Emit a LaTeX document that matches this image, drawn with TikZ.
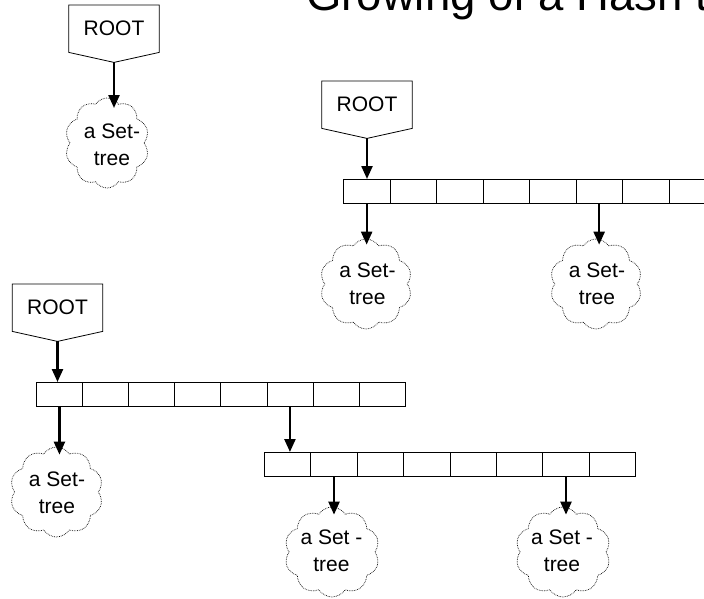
\documentclass[tikz,border=0pt]{standalone}
\usepackage{fontspec}
\setmainfont{Liberation Sans}
\usetikzlibrary{shapes.symbols,arrows.meta,calc}
\tikzset{
  rootbox/.style={minimum width=90pt,minimum height=47pt,inner sep=0pt,anchor=north,
    font=\fontsize{21}{24}\selectfont},
  cellbox/.style={draw,line width=0.8pt,minimum width=#1,minimum height=24pt,inner sep=0pt,anchor=north west},
  cloudshape/.style={cloud,draw,densely dotted,line width=0.7pt,cloud puffs=10,cloud puff arc=115,
    minimum width=#1,minimum height=90pt,inner sep=0pt},
  cloudtext/.style={align=center,font=\fontsize{21}{27}\selectfont,inner sep=0pt},
  ptr/.style={line width=2.3pt,-{Triangle[length=13pt,width=11pt]}},
}
\begin{document}
\begin{tikzpicture}[x=1pt,y=-1pt]
\clip (0,0) rectangle (704,598);
\fill[white] (0,0) rectangle (704,598);
% title
\node[anchor=base west,inner sep=0pt,font=\fontsize{45.5}{50}\selectfont] (title) at (306,10) {Growing of a Hash table};
% roots
\foreach \n/\x/\y in {r1/114/5, r2/367/81, r3/57.5/284}{
  \node[rootbox] (\n) at (\x,\y) {ROOT};
  \coordinate (\n p) at ($(\n.south)+(0,10)$);
  \draw[line width=0.8pt] (\n.north west) -- (\n.north east) -- (\n.south east) -- (\n p) -- (\n.south west) -- cycle;
}
% arrays
\foreach \i in {1,...,8}{
  \node[cellbox=46.5pt] (a2\i) at ({343+46.5*(\i-1)},179) {};
  \node[cellbox=46.1pt] (a3\i) at ({36+46.1*(\i-1)},382) {};
  \node[cellbox=46.4pt] (a4\i) at ({264+46.4*(\i-1)},452) {};
}
% clouds
\node[cloudshape=84pt] (c1) at (107,143) {};
\node[cloudtext] (t1) at (112,145) {a Set-\\tree};
\node[cloudshape=92pt] (c2a) at (366,284) {};
\node[cloudtext] (t2a) at (367.5,284) {a Set-\\tree};
\node[cloudshape=92pt] (c2b) at (596,284) {};
\node[cloudtext] (t2b) at (597,284) {a Set-\\tree};
\node[cloudshape=93pt] (c3a) at (56.5,492) {};
\node[cloudtext] (t3a) at (57,493) {a Set-\\tree};
\node[cloudshape=95pt] (c4a) at (332,552) {};
\node[cloudtext] (t4a) at (331.5,551) {a Set -\\tree};
\node[cloudshape=95pt] (c4b) at (563,552) {};
\node[cloudtext] (t4b) at (562,551) {a Set -\\tree};
% pointers
\draw[ptr] (r1p) -- (r1p |- 0,108);
\draw[ptr] (r2p) -- (r2p |- a21.north);
\draw[ptr] (r3p) -- (r3p |- a31.north);
\draw[ptr] (a21.south) -- ($(a21.south |- c2a.north)+(0,6)$);
\draw[ptr] (a26.south) -- ($(a26.south |- c2b.north)+(0,6)$);
\draw[ptr] (a31.south) -- ($(a31.south |- c3a.north)+(0,8)$);
\draw[ptr] (a36.south) -- (a36.south |- a41.north);
\draw[ptr] (a42.south) -- ($(a42.south |- c4a.north)+(0,8)$);
\draw[ptr] (a47.south) -- ($(a47.south |- c4b.north)+(0,8)$);
\end{tikzpicture}
\end{document}
